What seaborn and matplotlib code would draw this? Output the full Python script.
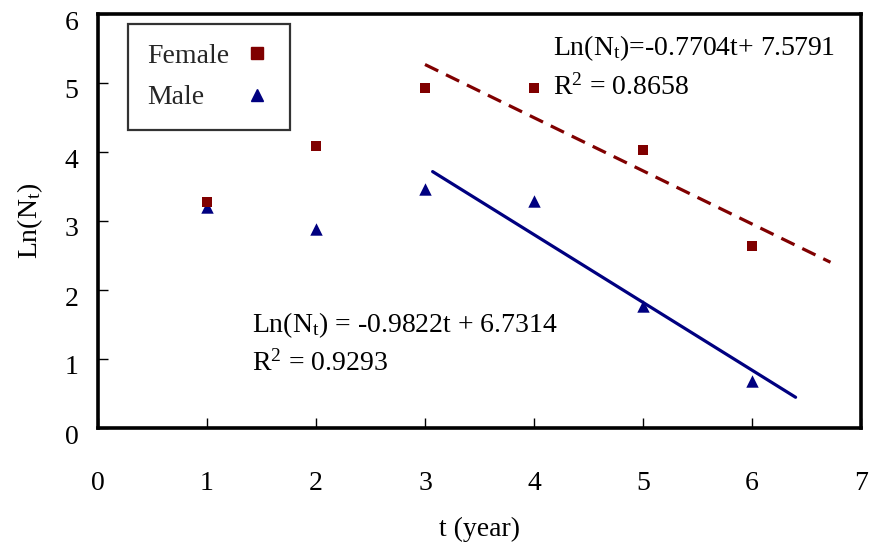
import numpy as np
import pandas as pd
import matplotlib
matplotlib.use("Agg")
import matplotlib.pyplot as plt
from matplotlib.transforms import ScaledTranslation
from matplotlib.lines import Line2D
import seaborn as sns

# Observed log population size by year
years = [1, 2, 3, 4, 5, 6]
female_ln = [3.27, 4.09, 4.93, 4.93, 4.03, 2.64]
male_ln = [3.21, 2.89, 3.46, 3.29, 1.77, 0.68]

# Linear fits over the decline phase (years 3-6)
female_slope, female_intercept, female_r2 = -0.7704, 7.5791, 0.8658
male_slope, male_intercept, male_r2 = -0.9822, 6.7314, 0.9293
female_fit_span = [3.0, 6.72]
male_fit_span = [3.07, 6.4]

x_ticks = [0, 1, 2, 3, 4, 5, 6, 7]
y_ticks = [0, 1, 2, 3, 4, 5, 6]

female_color = "#800000"
male_color = "#000080"

sns.set_theme(style="white")
plt.rcParams["font.family"] = ["Liberation Serif", "DejaVu Serif"]
plt.rcParams["mathtext.fontset"] = "custom"
plt.rcParams["mathtext.rm"] = "Liberation Serif"
plt.rcParams["mathtext.it"] = "Liberation Serif:italic"

fs = 20

df = pd.DataFrame({
    "t": years * 2,
    "ln": female_ln + male_ln,
    "sex": ["Female"] * len(years) + ["Male"] * len(years),
})

fig = plt.figure(figsize=(8.72, 5.52), dpi=100)
ax = fig.add_axes([98 / 872, 1 - 428 / 552, (861 - 98) / 872, (428 - 14) / 552])

# trend lines from the fitted equations
tf = np.array(female_fit_span)
sns.lineplot(x=tf, y=female_slope * tf + female_intercept, ax=ax,
             color=female_color, lw=2.3)
ax.lines[-1].set_dashes((4.6, 2.7))
tm = np.array(male_fit_span)
sns.lineplot(x=tm, y=male_slope * tm + male_intercept, ax=ax,
             color=male_color, lw=2.3)

# observations
sns.scatterplot(data=df[df.sex == "Male"], x="t", y="ln", ax=ax, marker="^",
                s=80, color=male_color, edgecolor=male_color, linewidth=0,
                legend=False, zorder=4)
sns.scatterplot(data=df[df.sex == "Female"], x="t", y="ln", ax=ax, marker="s",
                s=62, color=female_color, edgecolor=female_color, linewidth=0,
                legend=False, zorder=5)

ax.set_xlim(0, 7)
ax.set_ylim(0, 6)
ax.set_xticks(x_ticks)
ax.set_yticks(y_ticks)
ax.set_xticklabels([str(v) for v in x_ticks])
ax.set_yticklabels([str(v) for v in y_ticks])
ax.tick_params(axis="both", which="major", direction="in", length=7, width=1,
               color="black", labelsize=fs, labelcolor="black",
               bottom=True, left=True, top=False, right=False)
ax.tick_params(axis="x", pad=31)
ax.tick_params(axis="y", pad=14)
for lab in ax.get_yticklabels():
    lab.set_transform(lab.get_transform() +
                      ScaledTranslation(0, -6 / 100, fig.dpi_scale_trans))

for sp in ax.spines.values():
    sp.set_visible(True)
    sp.set_color("black")
    sp.set_linewidth(2.6)

ax.set_xlabel("t (year)", fontsize=fs, color="black", labelpad=15)
ax.set_ylabel(r"Ln(N$_{\mathrm{t}}$)", fontsize=fs, color="black", labelpad=14)

# equation annotations
ax.text(4.17, 5.51,
        r"Ln(N$_{\mathrm{t}}$)=%.4ft+ %.4f" % (female_slope, female_intercept),
        fontsize=fs, va="center", ha="left", color="black")
ax.text(4.17, 4.93, r"R$^{\mathrm{2}}$ = %.4f" % female_r2,
        fontsize=fs, va="center", ha="left", color="black")
ax.text(1.41, 1.49,
        r"Ln(N$_{\mathrm{t}}$) = %.4ft + %.4f" % (male_slope, male_intercept),
        fontsize=fs, va="center", ha="left", color="black")
ax.text(1.41, 0.94, r"R$^{\mathrm{2}}$ = %.4f" % male_r2,
        fontsize=fs, va="center", ha="left", color="black")

handles = [
    Line2D([], [], ls="none", marker="s", ms=8, color=female_color, mec=female_color),
    Line2D([], [], ls="none", marker="^", ms=9, color=male_color, mec=male_color),
]
text_pad = 0.5
leg = ax.legend(handles, ["Female", "Male"], loc="upper left",
                bbox_to_anchor=(0.039, 0.976), markerfirst=False, fontsize=fs,
                frameon=True, fancybox=False, edgecolor="black",
                handlelength=1.0, handletextpad=text_pad, labelspacing=0.58,
                borderpad=0.7, borderaxespad=0)
leg.get_frame().set_linewidth(1.6)

# left-align the labels while keeping the markers in one column
fig.canvas.draw()
renderer = fig.canvas.get_renderer()
texts = leg.get_texts()
widths = [t.get_window_extent(renderer).width for t in texts]
wmax = max(widths)
column = leg._legend_handle_box.get_children()[0]
for row, w in zip(column.get_children(), widths):
    row.sep = text_pad * fs + (wmax - w) * 72 / fig.dpi

fig.savefig("out.png", dpi=100, facecolor="white")
